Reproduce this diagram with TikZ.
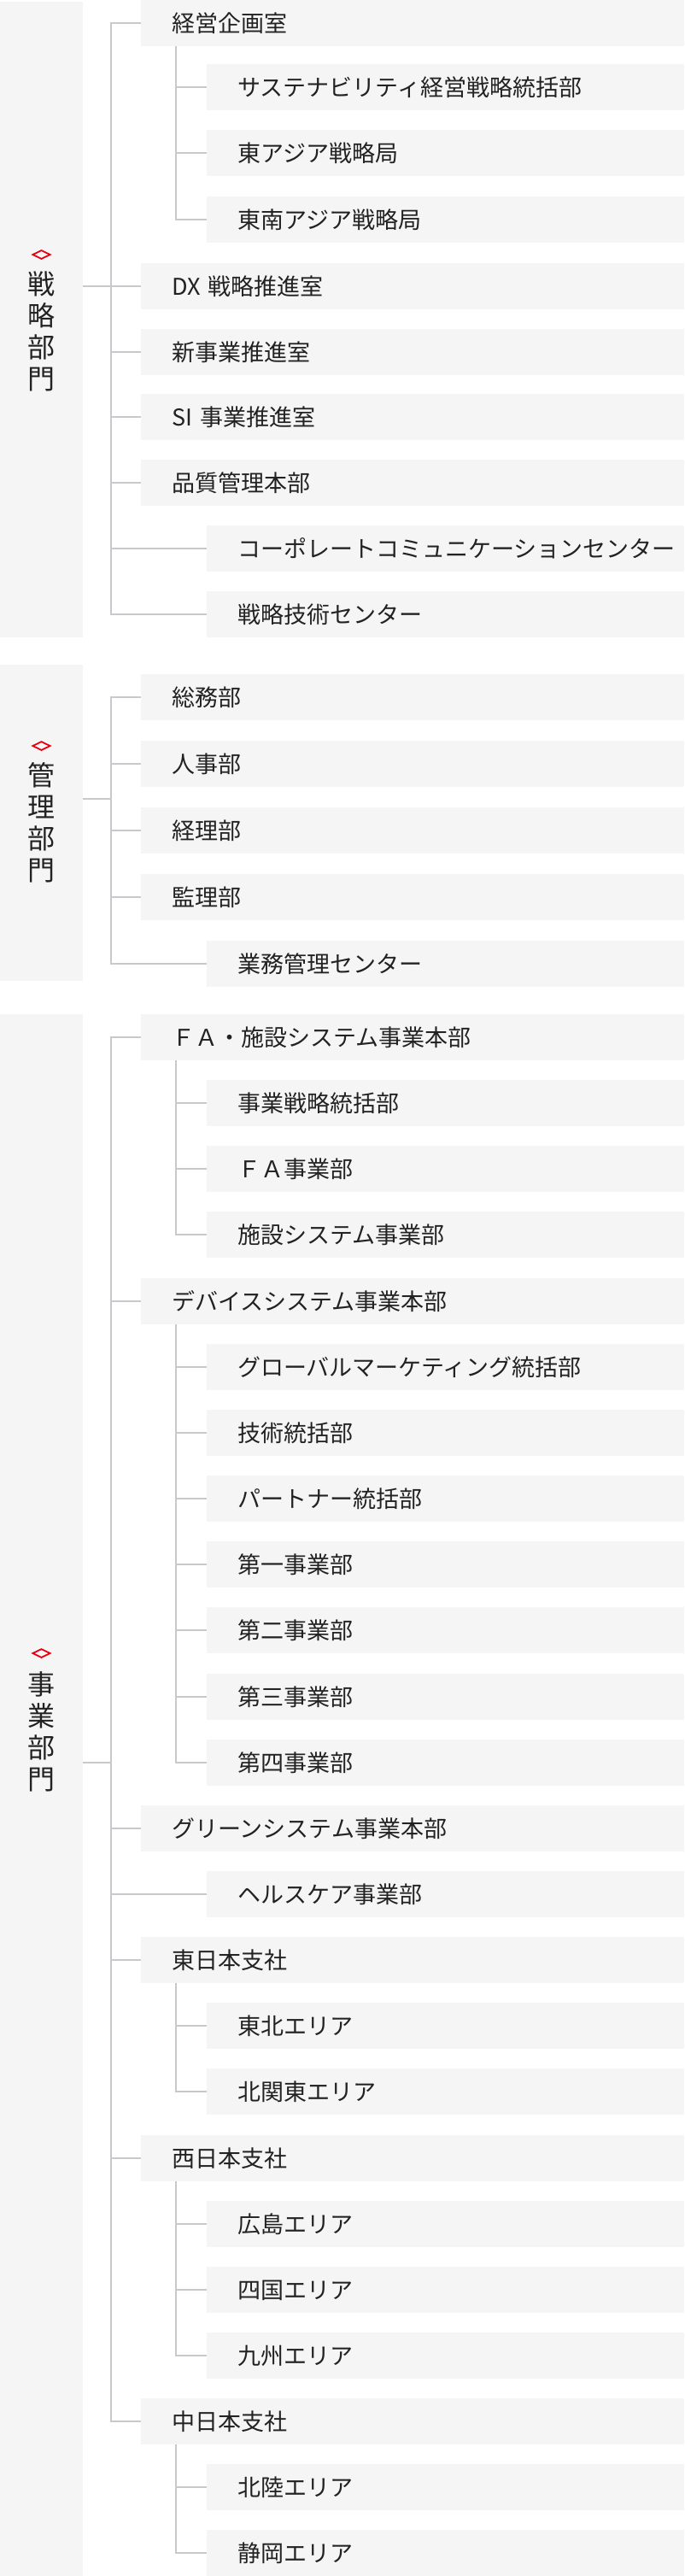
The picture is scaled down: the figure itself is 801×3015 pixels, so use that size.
\documentclass[tikz,border=0pt]{standalone}
\usepackage{fontspec}
\newfontfamily\jpfont{Noto Sans CJK JP}
\usepackage{tikz}
\usetikzlibrary{shapes.geometric,positioning,calc}
\definecolor{boxgray}{HTML}{F5F5F5}
\definecolor{linegray}{HTML}{C8C9CC}
\definecolor{ink}{HTML}{222222}
\definecolor{accent}{HTML}{E60012}

\begin{document}
\begin{tikzpicture}[x=1pt, y=-1pt, ln/.style={draw=linegray, line width=2.4pt}]
\tikzstyle{panel}=[rectangle, fill=boxgray, minimum width=97pt, inner sep=0pt]
\tikzstyle{sect}=[align=center, inner sep=0pt, text=ink, font=\jpfont\fontsize{32pt}{37pt}\selectfont]
\tikzstyle{dia}=[diamond, draw=accent, line width=1.8pt, minimum width=21pt, minimum height=10.5pt, inner sep=0pt]
\tikzstyle{unit}=[rectangle, fill=boxgray, anchor=west, minimum height=54pt, inner xsep=36pt, inner ysep=0pt,
  align=left, text=ink, font=\jpfont\fontsize{27pt}{32pt}\selectfont, text height=23.76pt, text depth=3.24pt]
\tikzstyle{hq}=[unit, text width=564pt]
\tikzstyle{dept}=[unit, text width=487pt]
\useasboundingbox (0,0) rectangle (801,3015);

% 戦略部門
\node[panel, minimum height=744pt] (p1) at (48.5,374) {};
\node[dia]  (d1) at (48.5,298) {};
\node[sect] (l1) at (48.5,388) {戦\\略\\部\\門};
\node[hq]   (keiei)     at (165,27)  {経営企画室};
\node[dept] (sustain)   at (242,102) {サステナビリティ経営戦略統括部};
\node[dept] (eAsia)     at (242,179) {東アジア戦略局};
\node[dept] (seAsia)    at (242,257) {東南アジア戦略局};
\node[hq]   (dx)        at (165,335) {DX 戦略推進室};
\node[hq]   (shinjigyo) at (165,412) {新事業推進室};
\node[hq]   (si)        at (165,488) {SI 事業推進室};
\node[hq]   (hinshitsu) at (165,565) {品質管理本部};
\node[dept] (corpcom)   at (242,642) {コーポレートコミュニケーションセンター};
\node[dept] (gijutsu)   at (242,719) {戦略技術センター};

% 管理部門
\node[panel, minimum height=370pt] (p2) at (48.5,963) {};
\node[dia]  (d2) at (48.5,873) {};
\node[sect] (l2) at (48.5,963) {管\\理\\部\\門};
\node[hq]   (soumu) at (165,816)  {総務部};
\node[hq]   (jinji) at (165,894)  {人事部};
\node[hq]   (keiri) at (165,972)  {経理部};
\node[hq]   (kanri) at (165,1050) {監理部};
\node[dept] (gyomu) at (242,1128) {業務管理センター};

% 事業部門
\node[panel, minimum height=1828pt] (p3) at (48.5,2101) {};
\node[dia]  (d3) at (48.5,1935) {};
\node[sect] (l3) at (48.5,2027) {事\\業\\部\\門};
\node[hq]   (fa)        at (165,1214) {ＦＡ・施設システム事業本部};
\node[dept] (senryaku)  at (242,1291) {事業戦略統括部};
\node[dept] (faj)       at (242,1368) {ＦＡ事業部};
\node[dept] (shisetsu)  at (242,1445) {施設システム事業部};
\node[hq]   (device)    at (165,1523) {デバイスシステム事業本部};
\node[dept] (global)    at (242,1600) {グローバルマーケティング統括部};
\node[dept] (gijutsuT)  at (242,1677) {技術統括部};
\node[dept] (partner)   at (242,1754) {パートナー統括部};
\node[dept] (dai1)      at (242,1831) {第一事業部};
\node[dept] (dai2)      at (242,1908) {第二事業部};
\node[dept] (dai3)      at (242,1986) {第三事業部};
\node[dept] (dai4)      at (242,2063) {第四事業部};
\node[hq]   (green)     at (165,2140) {グリーンシステム事業本部};
\node[dept] (health)    at (242,2217) {ヘルスケア事業部};
\node[hq]   (higashi)   at (165,2294) {東日本支社};
\node[dept] (tohoku)    at (242,2371) {東北エリア};
\node[dept] (kitakanto) at (242,2448) {北関東エリア};
\node[hq]   (nishi)     at (165,2526) {西日本支社};
\node[dept] (hiroshima) at (242,2603) {広島エリア};
\node[dept] (shikoku)   at (242,2680) {四国エリア};
\node[dept] (kyushu)    at (242,2757) {九州エリア};
\node[hq]   (naka)      at (165,2834) {中日本支社};
\node[dept] (hokuriku)  at (242,2911) {北陸エリア};
\node[dept] (shizuoka)  at (242,2988) {静岡エリア};

% trunks
\coordinate (j1) at (130,335);
\coordinate (j2) at (130,935);
\coordinate (j3) at (130,2063);
\draw[ln] (p1.east |- j1) -- (j1);
\draw[ln] (p2.east |- j2) -- (j2);
\draw[ln] (p3.east |- j3) -- (j3);
\draw[ln] (keiei.west) -| (j1) |- (gijutsu.west);
\draw[ln] (soumu.west) -| (j2) |- (gyomu.west);
\draw[ln] (fa.west) -| (j3) |- (naka.west);
\path[ln]
(j1 |- dx.west)        edge (dx.west)
(j1 |- shinjigyo.west) edge (shinjigyo.west)
(j1 |- si.west)        edge (si.west)
(j1 |- hinshitsu.west) edge (hinshitsu.west)
(j1 |- corpcom.west)   edge (corpcom.west)
(j2 |- jinji.west)     edge (jinji.west)
(j2 |- keiri.west)     edge (keiri.west)
(j2 |- kanri.west)     edge (kanri.west)
(j3 |- device.west)    edge (device.west)
(j3 |- green.west)     edge (green.west)
(j3 |- health.west)    edge (health.west)
(j3 |- higashi.west)   edge (higashi.west)
(j3 |- nishi.west)     edge (nishi.west);

% branches
\coordinate (k1) at ([xshift=41pt]keiei.south west);
\coordinate (k2) at ([xshift=41pt]fa.south west);
\coordinate (k3) at ([xshift=41pt]device.south west);
\coordinate (k4) at ([xshift=41pt]higashi.south west);
\coordinate (k5) at ([xshift=41pt]nishi.south west);
\coordinate (k6) at ([xshift=41pt]naka.south west);
\draw[ln] (k1) |- (seAsia.west);
\draw[ln] (k2) |- (shisetsu.west);
\draw[ln] (k3) |- (dai4.west);
\draw[ln] (k4) |- (kitakanto.west);
\draw[ln] (k5) |- (kyushu.west);
\draw[ln] (k6) |- (shizuoka.west);
\path[ln]
(k1 |- sustain.west)  edge (sustain.west)
(k1 |- eAsia.west)    edge (eAsia.west)
(k2 |- senryaku.west) edge (senryaku.west)
(k2 |- faj.west)      edge (faj.west)
(k3 |- global.west)   edge (global.west)
(k3 |- gijutsuT.west) edge (gijutsuT.west)
(k3 |- partner.west)  edge (partner.west)
(k3 |- dai1.west)     edge (dai1.west)
(k3 |- dai2.west)     edge (dai2.west)
(k3 |- dai3.west)     edge (dai3.west)
(k4 |- tohoku.west)   edge (tohoku.west)
(k5 |- hiroshima.west) edge (hiroshima.west)
(k5 |- shikoku.west)  edge (shikoku.west)
(k6 |- hokuriku.west) edge (hokuriku.west);

\end{tikzpicture}
\end{document}
